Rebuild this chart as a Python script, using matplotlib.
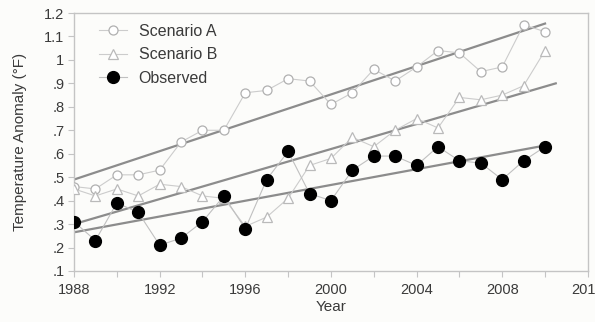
"""Temperature anomaly: Hansen scenarios A/B vs observed, 1988-2010."""

import matplotlib

matplotlib.use("Agg")
import matplotlib.pyplot as plt
from matplotlib.ticker import FuncFormatter, MultipleLocator

years = list(range(1988, 2011))

scenario_a = [0.46, 0.45, 0.51, 0.51, 0.53, 0.65, 0.70, 0.70, 0.86, 0.87, 0.92, 0.91,
              0.81, 0.86, 0.96, 0.91, 0.97, 1.04, 1.03, 0.95, 0.97, 1.15, 1.12]
scenario_b = [0.45, 0.42, 0.45, 0.42, 0.47, 0.46, 0.42, 0.41, 0.29, 0.33, 0.41, 0.55,
              0.58, 0.67, 0.63, 0.70, 0.75, 0.71, 0.84, 0.83, 0.85, 0.89, 1.04]
observed = [0.31, 0.23, 0.39, 0.35, 0.21, 0.24, 0.31, 0.42, 0.28, 0.49, 0.61, 0.43,
            0.40, 0.53, 0.59, 0.59, 0.55, 0.63, 0.57, 0.56, 0.49, 0.57, 0.63]

# trend lines, read as start/end points
trend_a_x = [1988, 2010]
trend_a_y = [0.49, 1.155]
trend_b_x = [1988, 2010.5]
trend_b_y = [0.30, 0.90]
trend_obs_x = [1988, 2010]
trend_obs_y = [0.265, 0.635]

x_ticks = [1988, 1992, 1996, 2000, 2004, 2008, 2012]

TEXT = "#3a3a3a"
SPINE = "#c4c4c4"
plt.rcParams["font.family"] = ["Liberation Sans", "DejaVu Sans"]

fig = plt.figure(figsize=(5.95, 3.22), dpi=100, facecolor="#fcfcfa")
ax = fig.add_axes([0.1244, 0.1584, 0.8636, 0.8012])
ax.set_facecolor("#fcfcfa")

trend_kw = dict(color="#8c8c8c", linewidth=1.6, zorder=2)
ax.plot(trend_a_x, trend_a_y, **trend_kw)
ax.plot(trend_b_x, trend_b_y, **trend_kw)
ax.plot(trend_obs_x, trend_obs_y, **trend_kw)

ax.plot(years, scenario_a, color="#cccccc", linewidth=0.8, marker="o", markersize=6.5,
        markerfacecolor="white", markeredgecolor="#b0b0b0", markeredgewidth=0.9,
        label="Scenario A", zorder=3)
ax.plot(years, scenario_b, color="#cccccc", linewidth=0.8, marker="^", markersize=6.5,
        markerfacecolor="white", markeredgecolor="#bababa", markeredgewidth=0.9,
        label="Scenario B", zorder=3)
ax.plot(years, observed, color="#c0c0c0", linewidth=0.8, marker="o", markersize=8.5,
        markerfacecolor="black", markeredgecolor="black", label="Observed", zorder=4)

ax.set_xlim(1988, 2012)
ax.set_ylim(0.1, 1.2)
ax.set_xticks(x_ticks)
ax.xaxis.set_minor_locator(MultipleLocator(2))
ax.yaxis.set_major_locator(MultipleLocator(0.1))


def _fmt(v, _pos):
    s = f"{v:.1f}".rstrip("0").rstrip(".")
    return s[1:] if s.startswith("0.") else s


ax.yaxis.set_major_formatter(FuncFormatter(_fmt))
ax.tick_params(axis="both", which="both", direction="out", length=4, width=0.8,
               color=SPINE, labelcolor=TEXT, labelsize=10.5, pad=3)
ax.tick_params(axis="x", which="major", pad=5)
for sp in ax.spines.values():
    sp.set_color(SPINE)
    sp.set_linewidth(1.0)

ax.set_xlabel("Year", color=TEXT, fontsize=11)
ax.xaxis.set_label_coords(0.5, -0.112)
ax.set_ylabel("Temperature Anomaly (\u00b0F)", color=TEXT, fontsize=11)
ax.yaxis.set_label_coords(-0.092, 0.5)

ax.legend(loc="upper left", bbox_to_anchor=(0.02, 1.015), frameon=False, fontsize=11.5,
          handlelength=1.8, handletextpad=0.7, labelspacing=0.55, labelcolor=TEXT)

fig.savefig("out.png", dpi=100, facecolor=fig.get_facecolor())
